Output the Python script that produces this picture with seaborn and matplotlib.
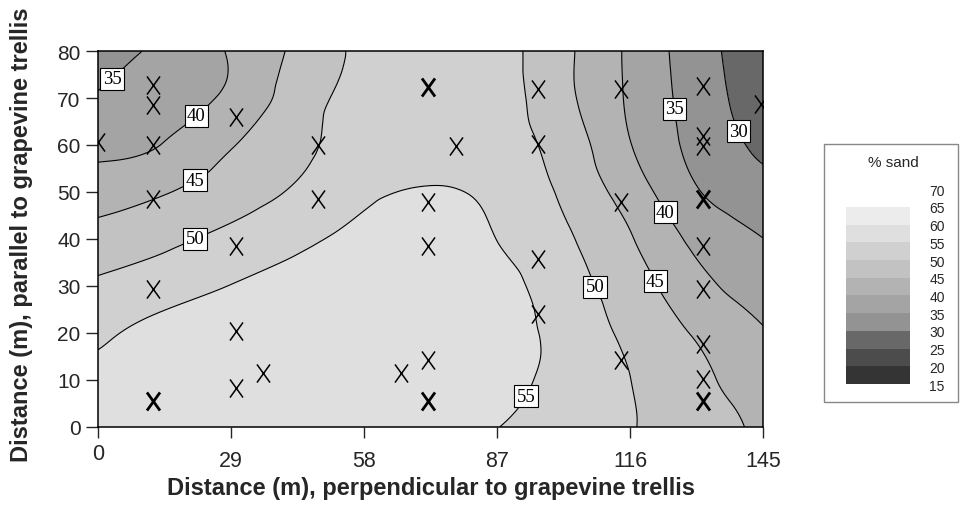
import numpy as np
import matplotlib
matplotlib.use("Agg")
import matplotlib.pyplot as plt
import matplotlib.tri as mtri
from matplotlib.path import Path
from matplotlib.patches import Rectangle
from matplotlib.transforms import ScaledTranslation
import seaborn as sns

grid_x = [0, 14.5, 29, 43.5, 58, 72.5, 87, 101.5, 116, 130.5, 145]
grid_y = [0, 10, 20, 30, 40, 50, 60, 70, 80]
sand = [
    [57.0, 57.5, 57.9, 58.1, 58.2, 57.2, 55.1, 52.7, 50.2, 47.9, 43.7],   # y=0
    [56.3, 57.2, 57.8, 58.2, 58.4, 58.3, 56.8, 53.4, 50.05, 46.2, 42.4],  # y=10
    [54.0, 56.5, 57.5, 58.0, 58.2, 58.3, 57.1, 53.4, 48.9, 44.5, 40.4],   # y=20
    [50.8, 52.9, 55.1, 56.5, 57.3, 57.6, 56.7, 52.2, 47.4, 41.6, 37.8],   # y=30
    [46.9, 48.85, 51.4, 54.0, 56.2, 56.8, 54.95, 50.8, 45.4, 38.8, 35.05],  # y=40
    [42.7, 44.7, 47.7, 50.7, 54.2, 55.2, 54.0, 49.2, 42.7, 35.4, 32.1],   # y=50
    [38.6, 40.2, 44.65, 48.7, 52.6, 54.2, 52.3, 47.9, 40.2, 33.6, 28.8],  # y=60
    [35.5, 38.3, 41.0, 47.6, 51.4, 53.3, 52.0, 46.4, 39.3, 32.8, 27.1],   # y=70
    [32.0, 36.2, 40.5, 46.1, 51.0, 52.5, 51.7, 46.2, 39.1, 32.3, 26.4],   # y=80
]

levels = [15, 20, 25, 30, 35, 40, 45, 50, 55, 60, 65, 70]
band_colors = ["#343434", "#4c4c4c", "#686868", "#939393", "#a4a4a4", "#b3b3b3",
               "#c2c2c2", "#d0d0d0", "#dfdfdf", "#ececec", "#ffffff"]
line_levels = [30, 35, 40, 45, 50, 55]

# sample locations (X marks)
sample_x = [0, 12, 12, 12, 12, 12, 30, 30, 30, 30, 36, 48, 48, 78, 72, 72, 72, 66,
            96, 96, 96, 96, 114, 114, 114, 132, 132, 132, 132, 132, 132, 132, 144.5]
sample_y = [60.6, 72.8, 68.5, 59.9, 48.5, 29.4, 66, 38.6, 20.5, 8.3, 11.5, 59.9, 48.5,
            59.8, 47.9, 38.6, 14.3, 11.5, 71.9, 60.2, 35.7, 24, 71.9, 47.9, 14.3,
            72.6, 61.9, 59.8, 38.5, 29.4, 17.7, 10.2, 68.7]
# locations sampled twice (drawn heavier)
repeat_x = [12, 72, 72, 132, 132]
repeat_y = [5.6, 72.3, 5.6, 48.5, 5.5]

label_pos = [(4.1, 73), (21.1, 66.6), (21.1, 52.5), (21.1, 40.2), (92.8, 6.8),
             (108.3, 29.8), (121.4, 30.9), (124.2, 46), (125.3, 67.7), (139.4, 62.8)]

sns.set_theme(style="ticks")
plt.rcParams["font.family"] = ["Liberation Sans", "DejaVu Sans"]

fig = plt.figure(figsize=(9.61, 5.10), dpi=100)
ax = fig.add_axes([0.102, 0.161, 0.692, 0.737])

# smooth the read grid with matplotlib's cubic tri refiner
X, Y = np.meshgrid(grid_x, grid_y)
triang = mtri.Triangulation(X.ravel(), Y.ravel())
refiner = mtri.UniformTriRefiner(triang)
tri_f, z_f = refiner.refine_field(np.array(sand).ravel(), subdiv=4)

cf = ax.tricontourf(tri_f, z_f, levels=levels, colors=band_colors)
cs = ax.tricontour(tri_f, z_f, levels=line_levels, colors="black", linewidths=0.8)

labels = ax.clabel(cs, manual=label_pos, inline=False, fmt="%d", fontsize=13.5)
for t in labels:
    t.set_rotation(0)
    t.set_fontfamily("Liberation Serif")
    t.set_bbox(dict(boxstyle="square,pad=0.13", facecolor="white",
                    edgecolor="black", linewidth=0.8))

xmark = Path([(-0.72, -1), (0.72, 1), (-0.72, 1), (0.72, -1)],
             [Path.MOVETO, Path.LINETO, Path.MOVETO, Path.LINETO])
sns.scatterplot(x=sample_x, y=sample_y, marker=xmark, s=170, color="black",
                edgecolor="black", linewidth=1.1, ax=ax, zorder=4)
sns.scatterplot(x=repeat_x, y=repeat_y, marker=xmark, s=170, color="black",
                edgecolor="black", linewidth=2.0, ax=ax, zorder=4)

ax.set_xlim(0, 145)
ax.set_ylim(0, 80)
ax.set_xticks([0, 29, 58, 87, 116, 145])
ax.set_yticks(range(0, 81, 10))
ax.tick_params(axis="x", direction="out", length=8, width=1, labelsize=15.5, pad=8.5)
ax.tick_params(axis="y", direction="out", length=8.5, width=1, labelsize=15, pad=4)
for sp in ax.spines.values():
    sp.set_visible(True)
    sp.set_linewidth(1.1)
    sp.set_color("black")
# the "0" on the x axis sits a little higher in the original
zero_lab = ax.get_xticklabels()[0]
zero_lab.set_transform(zero_lab.get_transform() + ScaledTranslation(0, 0.07, fig.dpi_scale_trans))

ax.set_xlabel("Distance (m), perpendicular to grapevine trellis",
              fontsize=17, fontweight="bold")
ax.xaxis.set_label_coords(0.5, -0.131)
ax.set_ylabel("Distance (m), parallel to grapevine trellis",
              fontsize=17, fontweight="bold")
ax.yaxis.set_label_coords(-0.098, 0.513)

# legend panel
cax = fig.add_axes([0.880, 0.245, 0.0666, 0.382])
cbar = fig.colorbar(cf, cax=cax, ticks=levels)
cbar.outline.set_visible(False)
cax.tick_params(length=0, labelsize=10, pad=14)
fig.text(0.930, 0.680, "% sand", ha="center", va="center", fontsize=11)
fig.patches.append(Rectangle((0.857, 0.2098), 0.1394, 0.506, transform=fig.transFigure,
                             fill=False, edgecolor="#888888", linewidth=1.0))

fig.savefig("out.png", dpi=100)
